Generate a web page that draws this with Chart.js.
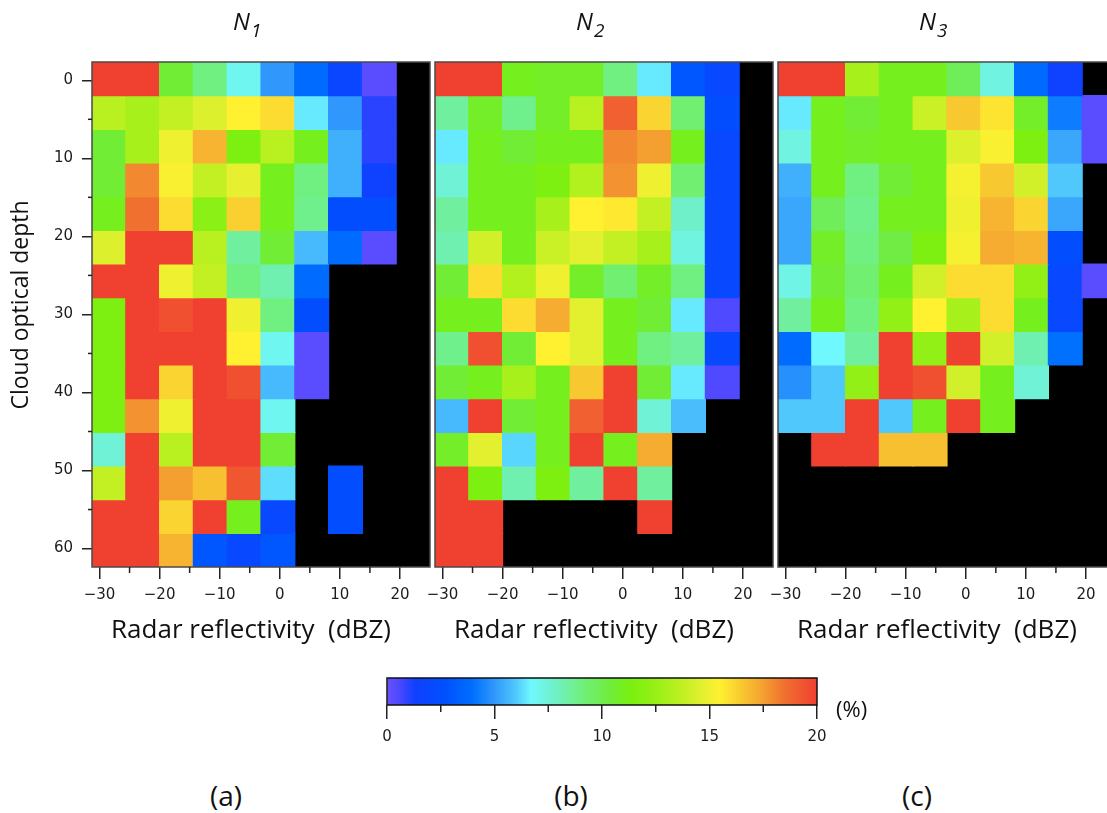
<!DOCTYPE html>
<html>
<head>
<meta charset="utf-8">
<script src="https://cdn.jsdelivr.net/npm/chart.js@4.4.1/dist/chart.umd.min.js"></script>
<style>
  html, body { margin: 0; background: #fff; }
  #wrap { position: relative; width: 1107px; height: 813px; overflow: hidden; }
  #wrap canvas { position: absolute; top: 0; }
  .ttl { position: absolute; top: 9px; font: italic 24px/24px "Open Sans", sans-serif; color: #111; white-space: nowrap; }
  .ttl sub { font-size: 19px; vertical-align: -7px; line-height: 0; margin-left: 1px; }
  .cap { position: absolute; top: 781px; width: 80px; text-align: center; font: 28px/28px "Open Sans", sans-serif; color: #111; }
  #pct { position: absolute; left: 836px; top: 697px; font: 22px/22px "Open Sans", sans-serif; color: #111; }
</style>
</head>
<body>
<div id="wrap">
  <canvas id="panelA" width="432" height="660" style="left:0px"></canvas>
  <canvas id="panelB" width="432" height="660" style="left:343px"></canvas>
  <canvas id="panelC" width="432" height="660" style="left:686px"></canvas>
  <canvas id="colorBar" width="620" height="120" style="left:300px; top:650px"></canvas>
  <div class="ttl" style="left:233px">N<sub>1</sub></div>
  <div class="ttl" style="left:576px">N<sub>2</sub></div>
  <div class="ttl" style="left:919px">N<sub>3</sub></div>
  <div id="pct">(%)</div>
  <div class="cap" style="left:186px">(a)</div>
  <div class="cap" style="left:531px">(b)</div>
  <div class="cap" style="left:877px">(c)</div>
</div>
<script>
// bin edges (dBZ across, optical depth down)
const reflectivityEdges = [-31.25, -25.625, -20, -14.375, -8.75, -3.125, 2.5, 8.125, 13.75, 19.375, 25];
const depthEdges = [-2.34, 1.97, 6.29, 10.6, 14.91, 19.23, 23.54, 27.85, 32.16, 36.48, 40.79, 45.1, 49.42, 53.73, 58.04, 62.36];

const dbzTicks = [-30, -20, -10, 0, 10, 20];
const dbzMinorTicks = [-25, -15, -5, 5, 15];
const depthTicks = [0, 10, 20, 30, 40, 50, 60];
const depthMinorTicks = [5, 15, 25, 35, 45, 55];
const pctTicks = [0, 5, 10, 15, 20];
const pctMinorTicks = [2.5, 7.5, 12.5, 17.5];

// frequency (%) per cell, rows top->bottom, null = no data
const n1Pct = [
  [20, 20, 10.5, 9, 7, 5, 3.8, 1.8, 0.3, null],
  [13.5, 13, 13.8, 14.5, 15.5, 16, 6.5, 5, 1, null],
  [10.5, 13, 15, 17, 11.5, 13.5, 11, 5.5, 1, null],
  [10.5, 18, 15.3, 13.8, 14.8, 11, 9, 5.5, 1.5, null],
  [11, 18.5, 16, 12, 16.3, 11, 8.8, 2.5, 2.5, null],
  [14.5, 20, 20, 13.5, 8.5, 10.5, 5.7, 3.8, 0.3, null],
  [20, 20, 15, 13.8, 9, 8.2, 3.8, null, null, null],
  [11.5, 20, 19.5, 20, 15, 9, 2.5, null, null, null],
  [11.5, 20, 20, 20, 15.5, 7, 0.3, null, null, null],
  [11.5, 20, 16.2, 20, 19.5, 5.7, 0.3, null, null, null],
  [11.5, 17.8, 15, 20, 20, 7, null, null, null, null],
  [7.5, 20, 13.5, 20, 20, 10.5, null, null, null, null],
  [13.8, 20, 17.5, 16.7, 19.3, 6.3, null, 2.5, null, null],
  [20, 20, 16.2, 20, 11, 2, null, 2.5, null, null],
  [20, 20, 17, 3, 2, 3, null, null, null, null]
];

const n2Pct = [
  [20, 20, 11, 10.8, 10.8, 9, 6.5, 3, 2, null],
  [8.5, 10.8, 8.8, 10.8, 13.5, 19, 16.2, 9.3, 2.5, null],
  [6.5, 11, 10.5, 11, 11, 18, 17.5, 11, 2, null],
  [7.5, 11, 11, 11.5, 13.3, 17.8, 15, 9.3, 2, null],
  [8.5, 11, 11, 13, 15.5, 15.7, 13.8, 7.8, 2, null],
  [8.2, 14.2, 11, 14, 14.7, 13.8, 13, 7.3, 2, null],
  [10.5, 16, 13.3, 15, 10.8, 9.3, 10.8, 9, 2, null],
  [11, 11, 16, 17.2, 14.7, 11, 10.5, 6.5, 0.5, null],
  [8.8, 19.5, 10.5, 15.5, 14.7, 11, 9, 8.5, 2, null],
  [10.5, 11, 13, 11, 16.5, 20, 10.5, 6.5, 0.5, null],
  [5.7, 20, 10.5, 11, 19, 20, 7.5, 5.8, null, null],
  [10.8, 14.7, 6.2, 11, 20, 11, 17.2, null, null, null],
  [20, 11.5, 8.2, 11.5, 8.5, 20, 8.5, null, null, null],
  [20, 20, null, null, null, null, 20, null, null, null],
  [20, 20, null, null, null, null, null, null, null, null]
];

const n3Pct = [
  [20, 20, 13, 11, 11, 9.8, 7.3, 3.8, 1.5, null],
  [6.5, 11, 10.5, 11, 14, 16.5, 15.8, 10.8, 4.3, 0.3],
  [7.3, 11, 10.8, 11, 11, 14.5, 15.3, 11.5, 5.3, 0.3],
  [5.5, 11, 9, 10.5, 11, 15.2, 16.5, 14.2, 6, null],
  [5.3, 9.8, 8.8, 11, 11, 15, 17, 16.2, 5.3, null],
  [5.3, 10.8, 9, 10.2, 11.5, 15.2, 17.2, 17, 2.5, null],
  [7.2, 10.5, 9.3, 11, 14.2, 16, 16, 12.3, 2, 0.3],
  [8.5, 11, 9, 12.3, 15.5, 13, 16, 11, 2, null],
  [3.8, 6.7, 8.5, 20, 12.3, 20, 14.2, 8.2, 4, null],
  [4.8, 6, 12.3, 20, 19.5, 14.2, 11, 7.5, null, null],
  [6, 6, 20, 6, 11, 20, 11, null, null, null],
  [null, 20, 20, 16.7, 16.7, null, null, null, null, null],
  [null, null, null, null, null, null, null, null, null, null],
  [null, null, null, null, null, null, null, null, null, null],
  [null, null, null, null, null, null, null, null, null, null]
];

// rainbow colour scale, 0..20 %
const colorStops = [
  [0, "#6a50ff"], [0.6, "#4a48ff"], [1.3, "#1040ff"], [2.7, "#0050ff"], [4, "#0070ff"],
  [5, "#3098fc"], [6, "#50c8fc"], [6.7, "#70f8ff"], [7.8, "#70f0c8"], [9, "#70f080"],
  [10.3, "#70ec40"], [11.3, "#78f010"], [12.5, "#98f018"], [13.6, "#bcf020"], [14.6, "#e0f030"],
  [15.5, "#fff030"], [16.5, "#f8c830"], [17.5, "#f4a030"], [18.5, "#f07030"], [20, "#f04030"]
];

function hexRgb(h) {
  return [parseInt(h.slice(1, 3), 16), parseInt(h.slice(3, 5), 16), parseInt(h.slice(5, 7), 16)];
}

function colorFor(v) {
  const t = Math.max(0, Math.min(20, v));
  for (let i = 1; i < colorStops.length; i++) {
    const [v1, c1] = colorStops[i];
    if (t <= v1) {
      const [v0, c0] = colorStops[i - 1];
      const f = (t - v0) / (v1 - v0);
      const a = hexRgb(c0), b = hexRgb(c1);
      return "rgb(" + a.map((x, k) => Math.round(x + (b[k] - x) * f)).join(",") + ")";
    }
  }
  return colorStops[colorStops.length - 1][1];
}

function dbzLabel(v) {
  return v < 0 ? "\u2212" + Math.abs(v) : String(v);
}

Chart.defaults.font.family = "DejaVu Sans";
Chart.defaults.color = "#1c1c1c";

const decor = {
  id: "decor",
  beforeDatasetsDraw(chart, args, opts) {
    const a = chart.chartArea;
    if (!opts.background) return;
    chart.ctx.save();
    chart.ctx.fillStyle = opts.background;
    chart.ctx.fillRect(a.left, a.top, a.right - a.left, a.bottom - a.top);
    chart.ctx.restore();
  },
  afterDraw(chart, args, opts) {
    const ctx = chart.ctx;
    const a = chart.chartArea;
    ctx.save();
    ctx.strokeStyle = opts.frame;
    ctx.lineWidth = 1.5;
    ctx.strokeRect(a.left, a.top, a.right - a.left, a.bottom - a.top);

    ctx.strokeStyle = "#222";
    (opts.minor || []).forEach((m) => {
      const s = chart.scales[m.scale];
      if (!s || !s.options.display) return;
      m.values.forEach((v) => {
        const p = s.getPixelForValue(v);
        ctx.beginPath();
        if (s.isHorizontal()) {
          ctx.moveTo(p, s.top);
          ctx.lineTo(p, s.top + m.length);
        } else {
          ctx.moveTo(s.right, p);
          ctx.lineTo(s.right - m.length, p);
        }
        ctx.stroke();
      });
    });

    ctx.fillStyle = "#111";
    if (opts.xTitle) {
      ctx.font = "26px 'Open Sans'";
      ctx.textAlign = "center";
      ctx.textBaseline = "alphabetic";
      ctx.fillText(opts.xTitle, (a.left + a.right) / 2 - 10, 638);
    }
    if (opts.yTitle) {
      ctx.font = "23px 'Open Sans'";
      ctx.textAlign = "center";
      ctx.textBaseline = "alphabetic";
      ctx.translate(28, 305);
      ctx.rotate(-Math.PI / 2);
      ctx.fillText(opts.yTitle, 0, 0);
    }
    ctx.restore();
  }
};

function buildPanel(id, values, showY) {
  const labels = reflectivityEdges.slice(1).map((e, i) => String((reflectivityEdges[i] + e) / 2));
  const datasets = values.map((row, r) => ({
    data: row.map((v) => (v === null ? null : [depthEdges[r], depthEdges[r + 1]])),
    backgroundColor: row.map((v) => (v === null ? "rgba(0,0,0,0)" : colorFor(v))),
    borderWidth: 0,
    inflateAmount: 0.6,
    grouped: false,
    barPercentage: 1,
    categoryPercentage: 1
  }));

  new Chart(document.getElementById(id), {
    type: "bar",
    data: { labels, datasets },
    plugins: [decor],
    options: {
      responsive: false,
      animation: false,
      events: [],
      layout: { padding: { top: 62, right: 2, bottom: 0, left: 0 } },
      plugins: {
        legend: { display: false },
        tooltip: { enabled: false },
        decor: {
          background: "#000",
          frame: "#4a4a4a",
          xTitle: "Radar reflectivity  (dBZ)",
          yTitle: showY ? "Cloud optical depth" : null,
          minor: [
            { scale: "xDbz", values: dbzMinorTicks, length: 6 },
            { scale: "y", values: depthMinorTicks, length: 4 }
          ]
        }
      },
      scales: {
        x: { type: "category", display: false, offset: true },
        // tick axis only; bar defaults would give it offset, so switch that off
        xDbz: {
          type: "linear",
          axis: "x",
          position: "bottom",
          offset: false,
          min: reflectivityEdges[0],
          max: reflectivityEdges[reflectivityEdges.length - 1],
          afterBuildTicks: (s) => { s.ticks = dbzTicks.map((v) => ({ value: v })); },
          afterFit: (s) => { s.height = 93; },
          ticks: {
            autoSkip: false,
            maxRotation: 0,
            padding: 7,
            font: { size: 15 },
            callback: (v) => dbzLabel(v)
          },
          grid: { offset: false, drawOnChartArea: false, tickLength: 12, color: "#222", lineWidth: 1.5 },
          border: { display: false }
        },
        y: {
          type: "linear",
          reverse: true,
          display: showY,
          min: depthEdges[0],
          max: depthEdges[depthEdges.length - 1],
          afterBuildTicks: (s) => { s.ticks = depthTicks.map((v) => ({ value: v })); },
          // same left margin on every panel, labels or not
          afterFit: (s) => { s.width = 92; },
          ticks: { autoSkip: false, padding: 9, font: { size: 15 }, callback: (v) => String(v) },
          grid: { drawOnChartArea: false, tickLength: 10, color: "#222", lineWidth: 1.5 },
          border: { display: false }
        }
      }
    }
  });
}

buildPanel("panelA", n1Pct, true);
buildPanel("panelB", n2Pct, false);
buildPanel("panelC", n3Pct, false);

// colour bar
new Chart(document.getElementById("colorBar"), {
  type: "bar",
  data: {
    labels: ["%"],
    datasets: [{
      data: [[pctTicks[0], pctTicks[pctTicks.length - 1]]],
      backgroundColor(c) {
        const chart = c.chart;
        const x = chart.scales.x;
        if (!chart.chartArea || !x) return colorFor(10);
        const g = chart.ctx.createLinearGradient(x.getPixelForValue(0), 0, x.getPixelForValue(20), 0);
        colorStops.forEach(([v, col]) => g.addColorStop(v / 20, col));
        return g;
      },
      borderWidth: 0,
      barPercentage: 1,
      categoryPercentage: 1
    }]
  },
  plugins: [decor],
  options: {
    indexAxis: "y",
    responsive: false,
    animation: false,
    events: [],
    layout: { padding: { top: 28, right: 103, bottom: 0, left: 87 } },
    plugins: {
      legend: { display: false },
      tooltip: { enabled: false },
      decor: {
        frame: "#111",
        minor: [{ scale: "x", values: pctMinorTicks, length: 7 }]
      }
    },
    scales: {
      x: {
        type: "linear",
        min: 0,
        max: 20,
        afterBuildTicks: (s) => { s.ticks = pctTicks.map((v) => ({ value: v })); },
        afterFit: (s) => { s.height = 65; },
        ticks: { autoSkip: false, maxRotation: 0, padding: 9, font: { size: 15 } },
        grid: { drawOnChartArea: false, tickLength: 14, color: "#222", lineWidth: 1.5 },
        border: { display: false }
      },
      y: { type: "category", display: false, offset: true }
    }
  }
});
</script>
</body>
</html>
